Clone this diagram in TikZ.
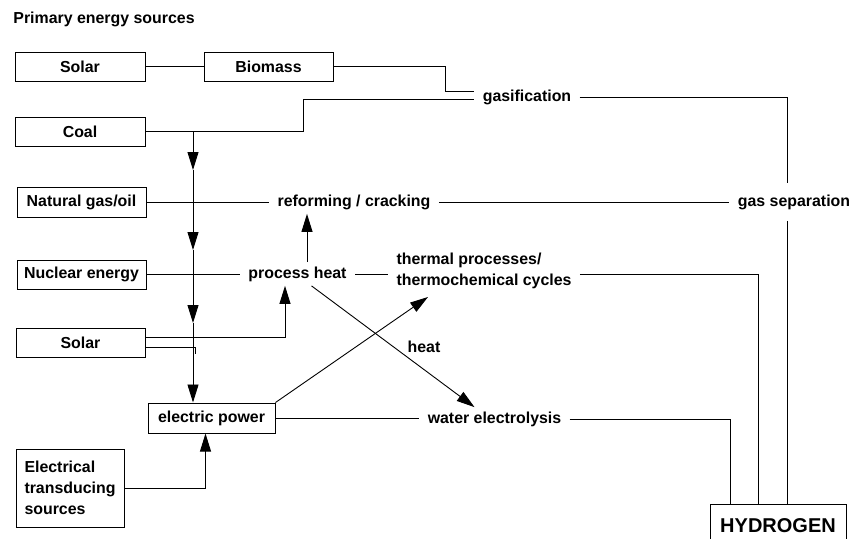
\documentclass[tikz,border=0pt]{standalone}
\usepackage{fontspec}
\setmainfont{Liberation Sans}
\usetikzlibrary{arrows.meta}

\begin{document}
\begin{tikzpicture}[x=1pt,y=-1pt,line width=0.9pt,
  every node/.style={font=\bfseries\fontsize{15.9}{21}\selectfont},
  box/.style={draw,line width=1pt,minimum width=130pt,minimum height=29pt,inner sep=0pt},
  lbl/.style={inner xsep=8pt,inner ysep=4pt},
  arr/.style={-{Triangle[length=18pt,width=11pt]}}]
  \useasboundingbox (0,0) rectangle (851,538);
  \node [anchor=west,inner sep=0pt] (t) at (13,19) {Primary energy sources};
  \node [box] (s1) at (80,66.5) {Solar};
  \node [box,minimum width=129pt] (bio) at (268.5,66.5) {Biomass};
  \node [box] (coal) at (80,131.5) {Coal};
  \node [box,minimum width=129pt,minimum height=30pt] (ngo) at (81.5,202) {Natural gas/oil};
  \node [box,minimum width=129pt] (nuc) at (81.5,274.5) {Nuclear energy};
  \node [box,minimum width=129pt] (s2) at (80.5,342.5) {Solar};
  \node [box,minimum width=127pt,minimum height=30pt] (ep) at (211.5,418) {electric power};
  \node [box,minimum width=108pt,minimum height=78pt,align=left] (ets) at (70,488)
    {Electrical\\transducing\\sources};
  \node [draw,line width=1pt,minimum width=136pt,minimum height=43pt,anchor=north,
    font=\bfseries\fontsize{20}{24}\selectfont] (h) at (778,504) {HYDROGEN};
  \node [lbl] (gas) at (527,97) {gasification};
  \node [lbl] (rc) at (354,202) {reforming / cracking};
  \node [lbl,inner ysep=11pt] (gs) at (794,202) {gas separation};
  \node [lbl] (ph) at (297.5,274) {process heat};
  \node [lbl,align=left] (tp) at (484,270.5) {thermal processes/\\thermochemical cycles};
  \node [lbl] (heat) at (424,347) {heat};
  \node [lbl] (we) at (494.5,419) {water electrolysis};

  \coordinate (g1) at (445,91);
  \coordinate (g2) at (303,99);
  \coordinate (gx) at (787,0);
  \coordinate (px) at (307,0);
  \coordinate (sx) at (285,0);
  \coordinate (j) at (195,354);
  \coordinate (h1) at (730,0);
  \coordinate (h2) at (758,0);
  \coordinate (v0) at (193,131.5);
  \coordinate (v1) at (193,170);
  \coordinate (v2) at (193,250);
  \coordinate (v3) at (193,323);

  \draw (s1.east) -- (bio.west);
  \draw (bio.east) -| (g1) -- (g1 -| gas.west);
  \draw (coal.east) -| (g2) -- (g2 -| gas.west);
  \foreach \a/\b in {v0/v1,v1/v2,v2/v3}
    \draw [arr] (\a) -- (\b);
  \draw [arr] (v3) -- (v3 |- ep.north);
  \draw (ngo.east) -- (ngo.east -| rc.west);
  \draw (rc.east) -- (rc.east -| gs.west);
  \draw (gas.east) -| (gx |- gs.north);
  \draw (gx |- gs.south) -- (gx |- h.north);
  \draw (nuc.east) -- (nuc.east -| ph.west);
  \draw (ph.east) -- (ph.east -| tp.west);
  \draw [arr] (ph.north -| px) -- (rc.south -| px);
  \draw [arr] ([yshift=5pt]s2.east) -| (sx |- ph.south);
  \draw ([yshift=-5pt]s2.east) -| (j);
  \draw [arr] (ep.north east) -- (428,297);
  \draw [arr] ([xshift=14pt]ph.south) -- ([xshift=-20pt]we.north);
  \draw (ep.east) -- (ep.east -| we.west);
  \draw (we.east) -| (h1 |- h.north);
  \draw ([yshift=-4pt]tp.east) -| (h2 |- h.north);
  \draw [arr] (ets.east) -| ([xshift=-6pt]ep.south);
\end{tikzpicture}
\end{document}
